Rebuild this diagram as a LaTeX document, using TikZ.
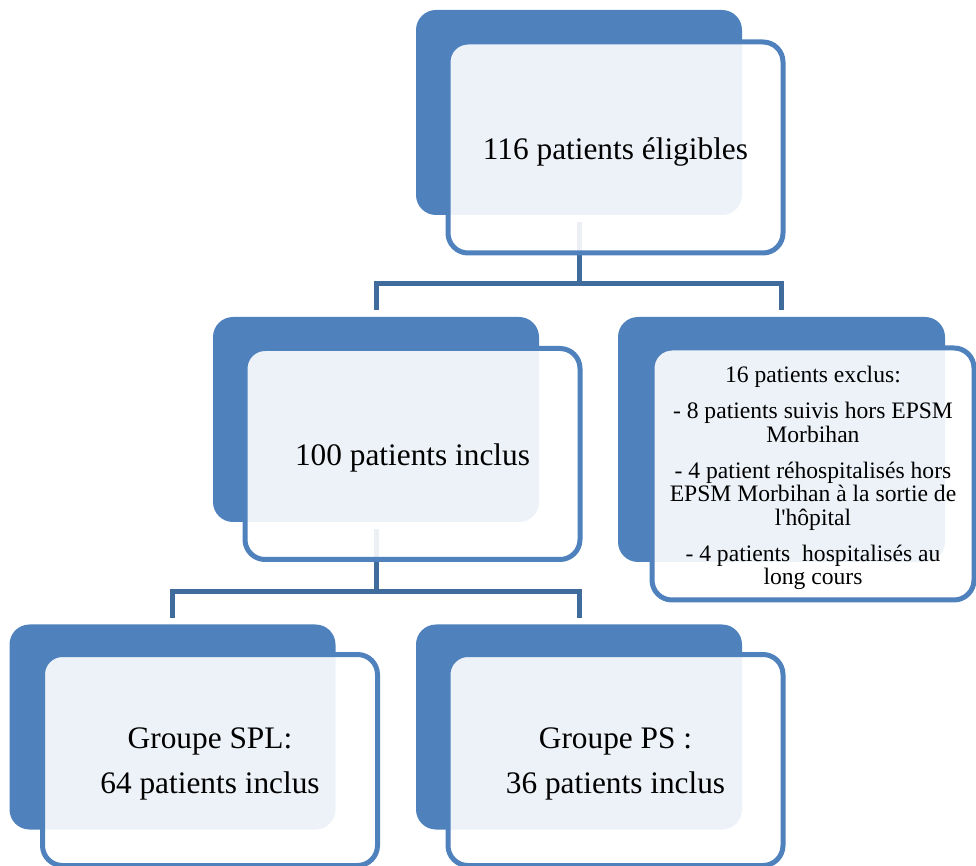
\documentclass[tikz,border=0pt]{standalone}
\usepackage{fontspec}
\setmainfont{Liberation Serif}
\usepackage{tikz}
\usetikzlibrary{positioning, shapes, calc}

\definecolor{boxblue}{HTML}{4F81BD}
\definecolor{linkblue}{HTML}{3F6C9D}
\newcommand{\bigsize}{\fontsize{23.5pt}{33.75pt}\selectfont}
\newcommand{\smallsize}{\fontsize{17.7pt}{17.6pt}\selectfont}

\begin{document}
\begin{tikzpicture}[x=0.75pt, y=-0.75pt,
    backbox/.style={rectangle, rounded corners=15pt, fill=boxblue, inner sep=0pt,
        minimum width=244.5pt, minimum height=153.75pt},
    frontbox/.style={rectangle, rounded corners=15pt, draw=boxblue, line width=3.75pt,
        fill=white, fill opacity=0.9, inner sep=0pt,
        minimum width=251.25pt, minimum height=158.25pt},
    boxtext/.style={align=center, inner sep=0pt, font=\bigsize},
    link/.style={draw=linkblue, line width=3.75pt}]
    \useasboundingbox (0,0) rectangle (976,866);

    % Back boxes
    \foreach \n/\x/\y in {1/579/112.5, 2/376/419.5, 4/172.5/727, 5/579/727}
    \node[backbox] (back\n) at (\x,\y) {};
    \node[backbox, minimum width=245.25pt, minimum height=183.75pt] (back3) at (781.5,439.5) {};

    % Links
    \coordinate (fork1) at (579,283.5);
    \coordinate (fork2) at (376,592);
    \draw[link] ([yshift=-5pt]back1.south) -- (fork1);
    \draw[link] ([yshift=5pt]back2.north) |- (fork1) -| ([yshift=5pt]back3.north);
    \draw[link] ([yshift=-5pt]back2.south) -- (fork2);
    \draw[link] ([yshift=4.5pt]back4.north) |- (fork2) -| ([yshift=4.5pt]back5.north);

    % Front boxes
    \foreach \n/\x/\y in {1/615.5/147.5, 2/412.5/454, 4/210/760, 5/615.5/760}
    \node[frontbox] (front\n) at (\x,\y) {};
    \node[frontbox, minimum width=241.5pt, minimum height=189pt] (front3) at (813,474) {};

    % Texts
    \node[boxtext] (text1) at ([yshift=-3pt]front1.center) {116 patients éligibles};
    \node[boxtext] (text2) at ([yshift=-3pt]front2.center) {100 patients inclus};
    \node[boxtext, font=\smallsize] (text3) at ([yshift=-3pt]front3.center)
        {16 patients exclus:\\[9.5pt]
         - 8 patients suivis hors EPSM\\ Morbihan\\[9.5pt]
         - 4 patient réhospitalisés hors\\ EPSM Morbihan à la sortie de\\ l\textquotesingle hôpital\\[9.5pt]
         - 4 patients~ hospitalisés au\\ long cours};
    \node[boxtext] (text4) at ([yshift=-3pt]front4.center) {Groupe SPL:\\ 64 patients inclus};
    \node[boxtext] (text5) at ([yshift=-3pt]front5.center) {Groupe PS :\\ 36 patients inclus};
\end{tikzpicture}
\end{document}
